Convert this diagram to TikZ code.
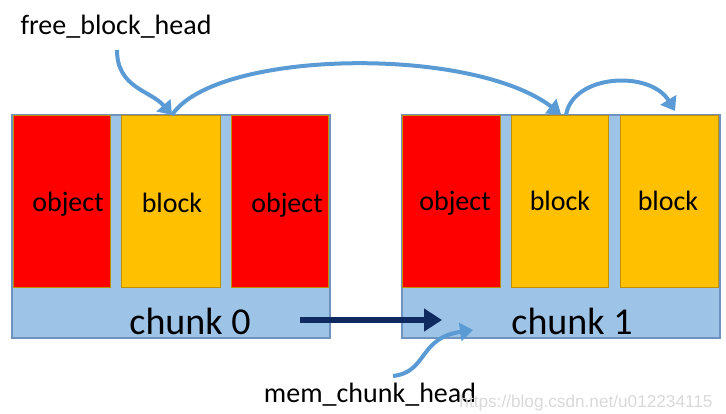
\documentclass[tikz,border=0pt]{standalone}
\usepackage{fontspec}
\setmainfont{Carlito}
\newfontfamily\wmfont{Liberation Sans}
\usetikzlibrary{arrows.meta}
\definecolor{bandfill}{HTML}{9DC3E6}
\definecolor{banddraw}{HTML}{6F93BE}
\definecolor{objred}{HTML}{FF0000}
\definecolor{blkorange}{HTML}{FFC000}
\definecolor{boxdraw}{HTML}{BF9000}
\definecolor{linkblue}{HTML}{5B9BD5}
\definecolor{navy}{HTML}{0E2A5E}
\tikzset{
  chunkbox/.style={draw=banddraw, fill=bandfill, line width=0.6pt, minimum width=159pt, minimum height=111.5pt, inner sep=0pt},
  objbox/.style={draw=boxdraw, fill=objred, line width=0.5pt, minimum height=86pt, inner sep=0pt},
  blkbox/.style={draw=boxdraw, fill=blkorange, line width=0.5pt, minimum height=86pt, inner sep=0pt},
  celltext/.style={font=\fontsize{14}{16}\selectfont, inner sep=0pt},
  chunktext/.style={font=\fontsize{19}{22}\selectfont, inner sep=0pt},
  labeltext/.style={font=\fontsize{14}{16}\selectfont, inner sep=0pt},
  bluelink/.style={draw=linkblue, line width=2pt, -{Triangle[length=6.5pt,width=9pt]}},
  navylink/.style={draw=navy, line width=3pt, -{Triangle[length=9pt,width=11pt]}}
}
\begin{document}
\begin{tikzpicture}[x=0.5pt, y=-0.5pt]
\useasboundingbox (0,0) rectangle (726,413);
% chunks
\node[chunkbox] (chunk0) at (171,226.5) {};
\node[chunkbox] (chunk1) at (561,226.5) {};
% cells of chunk 0
\node[objbox, minimum width=48.5pt] (obj0a) at (61.5,201) {};
\node[blkbox, minimum width=49.5pt] (blk0) at (170.5,201) {};
\node[objbox, minimum width=48.5pt] (obj0b) at (279.5,201) {};
% cells of chunk 1
\node[objbox, minimum width=49pt] (obj1) at (451,201) {};
\node[blkbox, minimum width=48.5pt] (blk1a) at (559.5,201) {};
\node[blkbox, minimum width=49pt] (blk1b) at (669,201) {};
% cell texts
\node[celltext] (t0a) at (68,204) {object};
\node[celltext] (t0b) at (172,203) {block};
\node[celltext] (t0c) at (287,205) {object};
\node[celltext] (t1a) at (455,203) {object};
\node[celltext] (t1b) at (560,201) {block};
\node[celltext] (t1c) at (668,201) {block};
% chunk texts
\node[chunktext] (c0) at (190,321) {chunk 0};
\node[chunktext] (c1) at (572,321) {chunk 1};
% labels
\node[labeltext] (fbh) at (116,27) {free\_block\_head};
\node[labeltext] (mch) at (370,395) {mem\_chunk\_head};
\node[font=\wmfont\fontsize{8.6}{10}\selectfont, text=gray!30, inner sep=0pt] (wm) at (586,403) {https://blog.csdn.net/u012234115};
% connector points
\coordinate (fbhs) at (117,50);
\coordinate (b0top) at (172,115);
\coordinate (b1top) at (561,114);
\coordinate (b1start) at (566,115);
\coordinate (b2top) at (675,111);
\coordinate (navys) at (300,320);
\coordinate (navye) at (442,320);
\coordinate (mchs) at (393,376);
\coordinate (mche) at (473,330);
% arrows
\draw[bluelink] (fbhs) .. controls (117,88) and (150,90) .. (b0top);
\draw[bluelink] (b0top) .. controls (215,50) and (470,45) .. (b1top);
\draw[bluelink] (b1start) .. controls (573,74) and (650,70) .. (b2top);
\draw[navylink] (navys) -- (navye);
\draw[bluelink] (mchs) .. controls (428,372) and (418,338) .. (mche);
\end{tikzpicture}
\end{document}
